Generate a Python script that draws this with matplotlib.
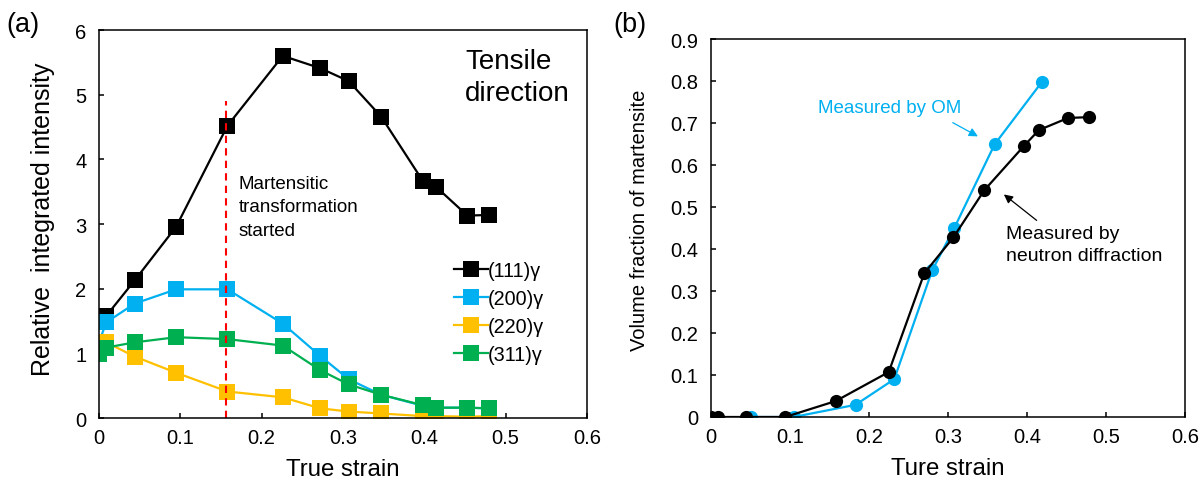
import matplotlib
matplotlib.use("Agg")
import matplotlib.pyplot as plt

plt.rcParams["font.family"] = ["Liberation Sans", "DejaVu Sans"]

# (a) relative integrated intensity vs true strain
strain_a = [0, 0.009, 0.044, 0.095, 0.158, 0.226, 0.272, 0.307, 0.347, 0.398, 0.414, 0.453, 0.479]
i111 = [1.58, 2.13, 2.96, 4.52, 5.60, 5.41, 5.21, 4.66, 3.67, 3.58, 3.13, 3.14]   # starts at strain_a[1]
i200 = [1.17, 1.48, 1.77, 1.99, 1.99, 1.46, 0.96, 0.60, 0.36, 0.19, 0.16, 0.16, 0.15]
i220 = [1.14, 1.17, 0.95, 0.70, 0.41, 0.32, 0.15, 0.10, 0.07, 0.03, 0.03, 0.02, 0.03]
i311 = [0.99, 1.09, 1.17, 1.25, 1.22, 1.12, 0.74, 0.52, 0.36, 0.20, 0.16, 0.16, 0.15]
peak_labels = ["(111)γ", "(200)γ", "(220)γ", "(311)γ"]
onset_strain = 0.1565
onset_top = 4.9

# (b) volume fraction of martensite
strain_nd = [0, 0.009, 0.044, 0.094, 0.158, 0.225, 0.270, 0.307, 0.346, 0.396, 0.415, 0.452, 0.479]
vf_nd = [0, 0, 0, 0, 0.038, 0.107, 0.342, 0.428, 0.540, 0.645, 0.683, 0.712, 0.714]
strain_om = [0.051, 0.1045, 0.183, 0.232, 0.280, 0.308, 0.359, 0.419]
vf_om = [0, 0, 0.029, 0.090, 0.349, 0.450, 0.649, 0.798]

BLACK, BLUE, YELLOW, GREEN = "#000000", "#00B0F0", "#FFC000", "#00B050"

fig = plt.figure(figsize=(12.04, 4.89), dpi=100)
axa = fig.add_axes([0.0822, 0.1431, 0.4053, 0.7935])
axb = fig.add_axes([0.5905, 0.1452, 0.3937, 0.7730])

for ax in (axa, axb):
    for sp in ax.spines.values():
        sp.set_linewidth(1.1)
    ax.tick_params(direction="in", length=3.6, width=1.1, labelsize=14.5)
    ax.tick_params(axis="x", pad=7)
    ax.tick_params(axis="y", pad=9)
    ax.set_xlim(0, 0.6)
    ax.set_xticks([0, 0.1, 0.2, 0.3, 0.4, 0.5, 0.6])
    ax.set_xticklabels(["0", "0.1", "0.2", "0.3", "0.4", "0.5", "0.6"])

# ---- (a)
sq = dict(marker="s", ms=11, lw=1.6, mew=0)
axa.plot(strain_a[1:], i111, color=BLACK, label=peak_labels[0], **sq)
axa.plot(strain_a, i200, color=BLUE, label=peak_labels[1], **sq)
axa.plot(strain_a, i220, color=YELLOW, label=peak_labels[2], **sq)
axa.plot(strain_a, i311, color=GREEN, label=peak_labels[3], **sq)
axa.vlines(onset_strain, 0, onset_top, colors="#FF0000", lw=1.5, linestyles=(0, (3.5, 2.5)))
axa.set_ylim(0, 6)
axa.set_yticks(range(7))
axa.set_xlabel("True strain", fontsize=17.3, labelpad=8)
axa.set_ylabel("Relative  integrated intensity", fontsize=18)
axa.yaxis.set_label_coords(-0.090, 0.515)
axa.text(0.172, 3.76, "Martensitic\ntransformation\nstarted", fontsize=13.5,
         ha="left", va="top", linespacing=1.5)
axa.text(0.4505, 5.72, "Tensile\ndirection", fontsize=20, ha="left", va="top", linespacing=1.3)
axa.legend(loc="upper left", bbox_to_anchor=(0.727, 0.405), frameon=False, fontsize=14.2,
           handlelength=1.75, handletextpad=0.0, labelspacing=0.45, borderpad=0,
           borderaxespad=0)

# ---- (b)
axb.plot(strain_om, vf_om, color=BLUE, marker="o", ms=9.5, lw=1.6, mew=0)
axb.plot(strain_nd, vf_nd, color=BLACK, marker="o", ms=9.5, lw=1.6, mew=0)
axb.set_ylim(0, 0.9)
axb.set_yticks([0, 0.1, 0.2, 0.3, 0.4, 0.5, 0.6, 0.7, 0.8, 0.9])
axb.set_yticklabels(["0", "0.1", "0.2", "0.3", "0.4", "0.5", "0.6", "0.7", "0.8", "0.9"])
axb.set_xlabel("Ture strain", fontsize=17.3, labelpad=8)
axb.set_ylabel("Volume fraction of martensite", fontsize=14.5)
axb.yaxis.set_label_coords(-0.131, 0.524)
axb.text(0.135, 0.738, "Measured by OM", color=BLUE, fontsize=13.5, ha="left", va="center")
axb.annotate("", xy=(0.341, 0.665), xytext=(0.303, 0.704),
             arrowprops=dict(arrowstyle="-|>", color=BLUE, lw=0.9, mutation_scale=13))
axb.text(0.374, 0.458, "Measured by\nneutron diffraction", color=BLACK, fontsize=14,
         ha="left", va="top", linespacing=1.4)
axb.annotate("", xy=(0.368, 0.534), xytext=(0.415, 0.464),
             arrowprops=dict(arrowstyle="-|>", color=BLACK, lw=0.9, mutation_scale=13))

fig.text(0.019, 0.948, "(a)", fontsize=19.5, ha="center", va="center")
fig.text(0.523, 0.948, "(b)", fontsize=19.5, ha="center", va="center")

fig.savefig("out.png", dpi=100)
